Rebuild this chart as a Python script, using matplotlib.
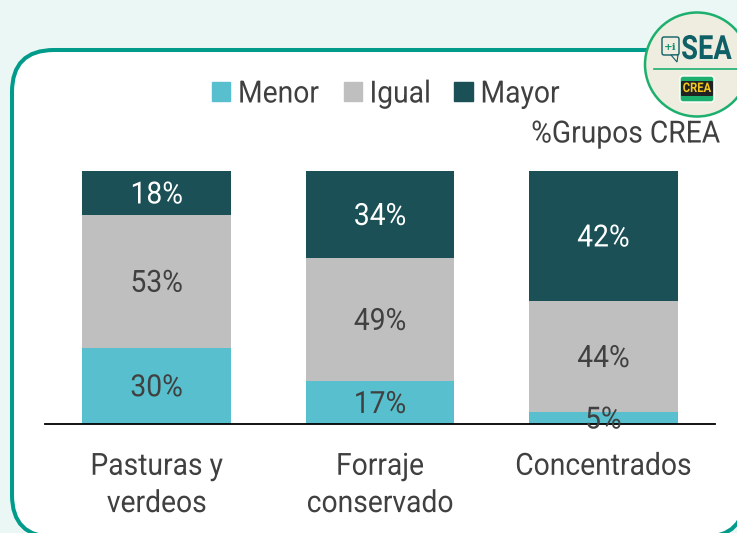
import matplotlib
matplotlib.use("Agg")
import matplotlib.pyplot as plt
from matplotlib.patches import FancyBboxPatch, Circle, Patch, Polygon
from matplotlib.patheffects import AbstractPathEffect
from matplotlib.transforms import Affine2D

plt.rcParams['font.family'] = ['Roboto', 'DejaVu Sans']

categories = ["Pasturas y\nverdeos", "Forraje\nconservado", "Concentrados"]
series_names = ["Menor", "Igual", "Mayor"]
menor = [30.2, 17.0, 4.7]
igual = [52.4, 48.6, 43.9]
mayor = [17.4, 34.4, 51.4]
menor_labels = ["30%", "17%", "5%"]
igual_labels = ["53%", "49%", "44%"]
mayor_labels = ["18%", "34%", "42%"]

C_MENOR, C_IGUAL, C_MAYOR = "#57BFCD", "#BFBFBF", "#1A5056"
TXT = "#404040"
W, H = 737, 533


class Condense(AbstractPathEffect):
    """Narrow the glyphs horizontally, the font being available only in normal width."""
    def __init__(self, s=0.925, anchor="center"):
        super().__init__()
        self.s, self.anchor = s, anchor

    def draw_path(self, renderer, gc, tpath, affine, rgbFace=None):
        xs = tpath.vertices[:, 0]
        if len(xs) == 0:
            return
        x0 = {"left": xs.min(), "right": xs.max(), "center": (xs.min() + xs.max()) / 2}[self.anchor]
        t = Affine2D().translate(-x0, 0).scale(self.s, 1).translate(x0, 0) + affine
        renderer.draw_path(gc, tpath, t, rgbFace)


fig = plt.figure(figsize=(W/100, H/100), dpi=100, facecolor="#EAF7F5")

bg = fig.add_axes([0, 0, 1, 1], zorder=0)
bg.set_xlim(0, W); bg.set_ylim(H, 0); bg.axis("off")
bg.add_patch(FancyBboxPatch((12+42, 50+42), 733-84, 487-84, boxstyle="round,pad=42,rounding_size=42",
                            fc="white", ec="#009B8A", lw=2.9))

ax = fig.add_axes([45/W, 1-424/H, 670/W, 253/H], zorder=1)
ax.patch.set_alpha(0)
x = range(len(categories))
b1 = ax.bar(x, menor, 0.667, color=C_MENOR)
b2 = ax.bar(x, igual, 0.667, bottom=menor, color=C_IGUAL)
bot3 = [a+b for a, b in zip(menor, igual)]
b3 = ax.bar(x, mayor, 0.667, bottom=bot3, color=C_MAYOR)
FS = 22
pe = [Condense()]
for bars, labs, col in ((b1, menor_labels, TXT), (b2, igual_labels, TXT), (b3, mayor_labels, "white")):
    for t in ax.bar_label(bars, labels=labs, label_type="center", color=col, fontsize=FS):
        t.set_path_effects(pe)
        t.xyann = (0, -1.4)
ax.set_xlim(-0.5, 2.5); ax.set_ylim(0, 100)
ax.set_yticks([])
ax.set_xticks(list(x), categories, fontsize=FS, color=TXT, linespacing=1.36)
for t in ax.get_xticklabels():
    t.set_path_effects(pe)
ax.tick_params(axis="x", length=0, pad=20)
for s in ["top", "left", "right"]:
    ax.spines[s].set_visible(False)
ax.spines["bottom"].set_color("black"); ax.spines["bottom"].set_linewidth(1.3)

handles = [Patch(color=c) for c in (C_MENOR, C_IGUAL, C_MAYOR)]
leg = fig.legend(handles, series_names, ncol=3, loc="center left", bbox_to_anchor=(212/W, 1-94/H), frameon=False,
                 fontsize=FS, labelcolor=TXT, handlelength=0.59, handleheight=0.59, handletextpad=0.26,
                 columnspacing=0.6, borderpad=0, borderaxespad=0)
for t in leg.get_texts():
    t.set_path_effects([Condense(anchor="left")])
fig.text(720/W, 1-134/H, "%Grupos CREA", ha="right", va="center", fontsize=FS, color=TXT,
         path_effects=[Condense(anchor="right")])

top = fig.add_axes([0, 0, 1, 1], zorder=2)
top.set_xlim(0, W); top.set_ylim(H, 0); top.axis("off")
top.add_patch(Circle((697, 64.5), 52, fc="#EEEDE0", ec="#1DAF6E", lw=1.8, clip_on=False))
top.plot([654, 737], [68.5, 68.5], color="#1DAF6E", lw=1.2)
top.text(706.5, 50, "SEA", ha="center", va="center", fontsize=24, fontweight="bold", color="#0E5F66",
         path_effects=[Condense(0.82)])
top.add_patch(FancyBboxPatch((662, 37), 17, 18, boxstyle="round,pad=0,rounding_size=2",
                             fc="none", ec="#0E5F66", lw=1))
top.add_patch(Polygon([[671, 55], [678, 55], [677, 62]], fc="#EEEDE0", ec="#0E5F66", lw=0.8))
top.text(670.5, 47, "+i", ha="center", va="center", fontsize=7.5, fontweight="bold", color="#0E8F6E",
         family=["DejaVu Serif"])
top.add_patch(FancyBboxPatch((680, 76), 34, 26, boxstyle="round,pad=0,rounding_size=3",
                             fc="#1DAF6E", ec="white", lw=1))
top.add_patch(FancyBboxPatch((681, 81), 32, 15, boxstyle="round,pad=0,rounding_size=1",
                             fc="#222222", ec="none"))
top.text(697, 88.5, "CREA", ha="center", va="center", fontsize=9.5, fontweight="bold", color="#F2C81E",
         path_effects=[Condense(0.85)])

fig.savefig("out.png", dpi=100, facecolor=fig.get_facecolor())
